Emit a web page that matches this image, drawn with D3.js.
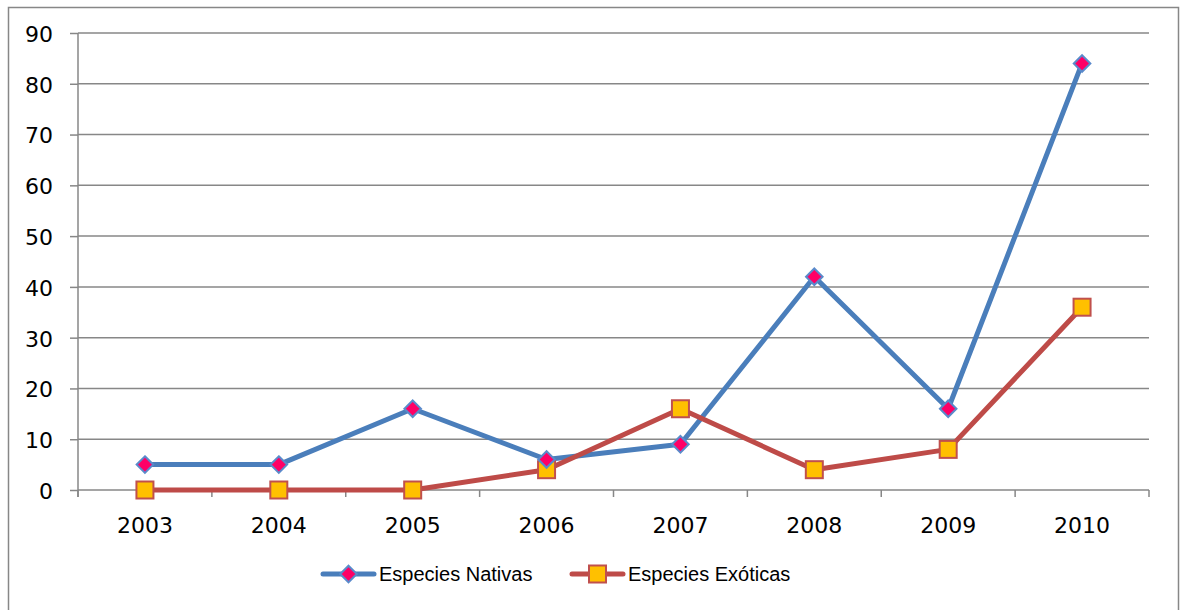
<!DOCTYPE html>
<html>
<head>
<meta charset="utf-8">
<script src="https://cdn.jsdelivr.net/npm/d3@7"></script>
<style>
  html, body { margin: 0; padding: 0; background: #fff; }
  svg { display: block; }
</style>
</head>
<body>
<svg id="chart" width="1183" height="610"></svg>
<script>
// Data
const years = ["2003", "2004", "2005", "2006", "2007", "2008", "2009", "2010"];
const nativas = [5, 5, 16, 6, 9, 42, 16, 84];
const exoticas = [0, 0, 0, 4, 16, 4, 8, 36];
const yTicks = [0, 10, 20, 30, 40, 50, 60, 70, 80, 90];
const seriesNames = ["Especies Nativas", "Especies Exóticas"];

const svg = d3.select("#chart");
const W = 1183, H = 610;
const margin = { left: 78, right: W - 1149, top: 33, bottom: H - 490 };
const gridColor = "#878787";
const blue = "#4A7EBB", red = "#BE4B48";

// Outer frame
svg.append("rect")
  .attr("x", 8.5).attr("y", 7.5)
  .attr("width", 1170).attr("height", 610)
  .attr("fill", "#fff").attr("stroke", gridColor).attr("stroke-width", 1.5);

const x = d3.scaleBand().domain(years).range([margin.left, W - margin.right]);
const y = d3.scaleLinear().domain([0, 90]).range([H - margin.bottom, margin.top]);

// Horizontal gridlines
svg.append("g").selectAll("line").data(yTicks.filter(d => d > 0)).join("line")
  .attr("x1", margin.left).attr("x2", W - margin.right)
  .attr("y1", d => y(d)).attr("y2", d => y(d))
  .attr("stroke", gridColor).attr("stroke-width", 1.5);

// Y axis
const yAxis = svg.append("g")
  .attr("transform", `translate(${margin.left},0)`)
  .call(d3.axisLeft(y).tickValues(yTicks).tickSize(8).tickPadding(17).tickSizeOuter(0));
yAxis.select(".domain").attr("stroke", gridColor).attr("stroke-width", 1.5)
  .attr("d", `M0,${y(90)}V${y(0) + 7}`);
yAxis.selectAll(".tick line").attr("stroke", gridColor).attr("stroke-width", 1.5);
yAxis.selectAll(".tick text")
  .attr("font-family", "DejaVu Sans").attr("font-size", 22).attr("fill", "#000")
  .attr("dy", "0.38em");

// X axis with ticks at category boundaries
const xAxisG = svg.append("g").attr("transform", `translate(0,${y(0)})`);
xAxisG.append("line")
  .attr("x1", margin.left).attr("x2", W - margin.right)
  .attr("stroke", gridColor).attr("stroke-width", 1.5);
const bounds = years.map(d => x(d)).concat([x(years[years.length - 1]) + x.bandwidth()]);
xAxisG.selectAll("line.tick").data(bounds).join("line")
  .attr("class", "tick")
  .attr("x1", d => d).attr("x2", d => d).attr("y1", 0).attr("y2", 7)
  .attr("stroke", gridColor).attr("stroke-width", 1.5);
xAxisG.selectAll("text").data(years).join("text")
  .attr("x", d => x(d) + x.bandwidth() / 2).attr("y", 43)
  .attr("text-anchor", "middle")
  .attr("font-family", "DejaVu Sans").attr("font-size", 22).attr("fill", "#000")
  .text(d => d);

const cx = d => x(d) + x.bandwidth() / 2;
const line = d3.line().x((d, i) => cx(years[i])).y(d => y(d));

// Lines
svg.append("path").datum(nativas).attr("d", line)
  .attr("fill", "none").attr("stroke", blue).attr("stroke-width", 5).attr("stroke-linejoin", "round");
svg.append("path").datum(exoticas).attr("d", line)
  .attr("fill", "none").attr("stroke", red).attr("stroke-width", 5).attr("stroke-linejoin", "round");

// Markers
const diamond = d3.symbol().type(d3.symbolDiamond2).size(175);
function drawDiamond(g, px, py) {
  g.append("path").attr("d", diamond())
    .attr("transform", `translate(${px},${py})`)
    .attr("fill", "#FF0066").attr("stroke", "#5A8ACB").attr("stroke-width", 2);
}
function drawSquare(g, px, py) {
  g.append("rect").attr("x", px - 8.5).attr("y", py - 8.5)
    .attr("width", 17).attr("height", 17)
    .attr("fill", "#FFC000").attr("stroke", "#C0504D").attr("stroke-width", 2);
}
const mk = svg.append("g");
exoticas.forEach((v, i) => drawSquare(mk, cx(years[i]), y(v)));
nativas.forEach((v, i) => drawDiamond(mk, cx(years[i]), y(v)));

// Legend
const lg = svg.append("g");
const legendY = 574;
[[323, 374, blue, drawDiamond, seriesNames[0], 379], [572, 623, red, drawSquare, seriesNames[1], 628]]
  .forEach(([x1, x2, c, m, label, tx]) => {
    lg.append("line").attr("x1", x1).attr("x2", x2).attr("y1", legendY).attr("y2", legendY)
      .attr("stroke", c).attr("stroke-width", 5).attr("stroke-linecap", "round");
    m(lg, (x1 + x2) / 2, legendY);
    lg.append("text").attr("x", tx).attr("y", legendY + 7)
      .attr("font-family", "Liberation Sans").attr("font-size", 20).attr("fill", "#000")
      .text(label);
  });
</script>
</body>
</html>
